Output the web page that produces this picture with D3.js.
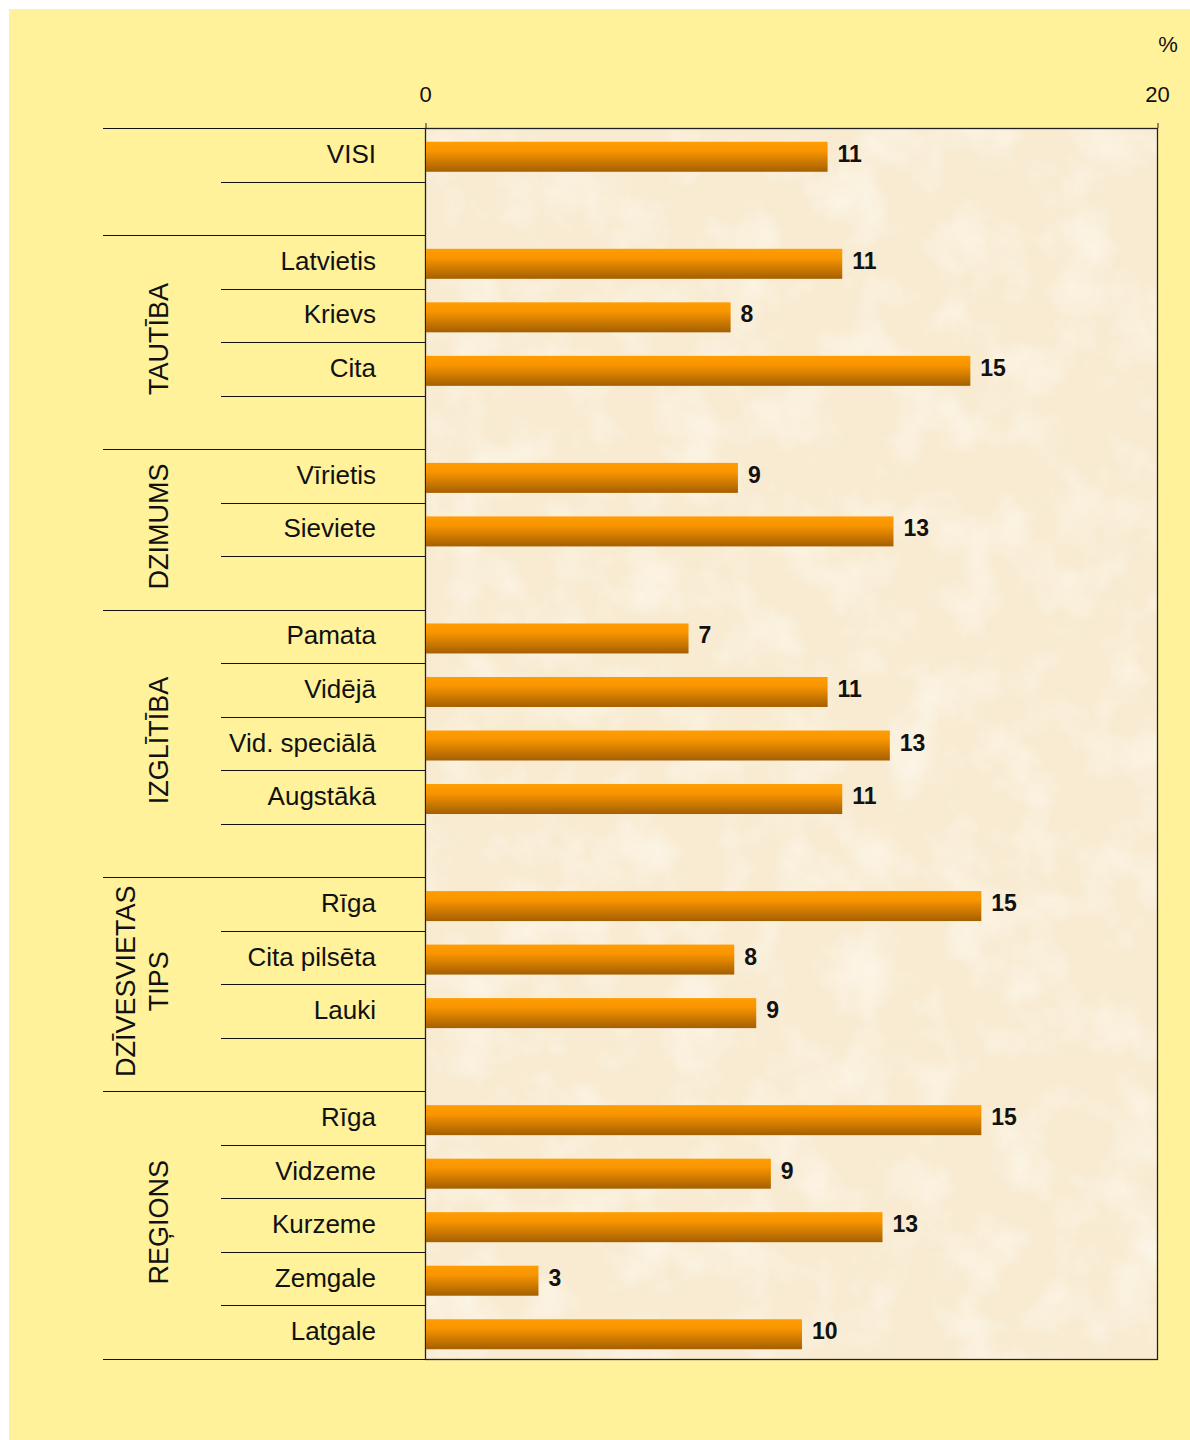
<!DOCTYPE html>
<meta charset="utf-8">
<style>
  body { margin: 0; background: white; }
  svg { display: block; font-family: "Liberation Sans", Arial, sans-serif; }
  .cat { font-size: 26px; fill: #111; }
  .grp { font-size: 27px; fill: #111; }
  .val { font-size: 23px; font-weight: bold; fill: #111; }
  .tick { font-size: 22px; fill: #111; }
</style>
<body>
<svg width="1190" height="1440"></svg>
<script src="https://cdn.jsdelivr.net/npm/d3@7/dist/d3.min.js"></script>
<script>

// rows, top to bottom ("" = spacer row)
var groups = ["", "", "TAUTĪBA", "TAUTĪBA", "TAUTĪBA", "TAUTĪBA",
  "DZIMUMS", "DZIMUMS", "DZIMUMS",
  "IZGLĪTĪBA", "IZGLĪTĪBA", "IZGLĪTĪBA", "IZGLĪTĪBA", "IZGLĪTĪBA",
  "DZĪVESVIETAS TIPS", "DZĪVESVIETAS TIPS", "DZĪVESVIETAS TIPS", "DZĪVESVIETAS TIPS",
  "REĢIONS", "REĢIONS", "REĢIONS", "REĢIONS", "REĢIONS"];
var groupStart = [1, 0, 1, 0, 0, 0, 1, 0, 0, 1, 0, 0, 0, 0, 1, 0, 0, 0, 1, 0, 0, 0, 0];
var categories = ["VISI", "", "Latvietis", "Krievs", "Cita", "",
  "Vīrietis", "Sieviete", "",
  "Pamata", "Vidējā", "Vid. speciālā", "Augstākā", "",
  "Rīga", "Cita pilsēta", "Lauki", "",
  "Rīga", "Vidzeme", "Kurzeme", "Zemgale", "Latgale"];
var values = [11.0, null, 11.4, 8.35, 14.9, null,
  8.55, 12.8, null,
  7.2, 11.0, 12.7, 11.4, null,
  15.2, 8.45, 9.05, null,
  15.2, 9.45, 12.5, 3.1, 10.3];
var ticks = [0, 20];

var svg = d3.select("svg");
var pLeft = 425, pRight = 1157, pTop = 128, pBottom = 1359;

var x = d3.scaleLinear().domain([0, 20]).range([pLeft, pRight]);
var y = d3.scaleBand().domain(d3.range(categories.length)).range([pTop, pBottom]);
var bh = 30;

var defs = svg.append("defs");
var grad = defs.append("linearGradient").attr("id", "bar").attr("x1", 0).attr("y1", 0).attr("x2", 0).attr("y2", 1);
grad.append("stop").attr("offset", "0%").attr("stop-color", "#ff9d00");
grad.append("stop").attr("offset", "30%").attr("stop-color", "#f99500");
grad.append("stop").attr("offset", "100%").attr("stop-color", "#a45f00");

var f = defs.append("filter").attr("id", "paper").attr("x", 0).attr("y", 0).attr("width", 1).attr("height", 1);
f.append("feTurbulence").attr("type", "fractalNoise").attr("baseFrequency", 0.018).attr("numOctaves", 4).attr("seed", 3);
f.append("feColorMatrix").attr("type", "matrix")
  .attr("values", "0 0 0 0 1  0 0 0 0 0.98  0 0 0 0 0.93  1.6 0 0 0 -0.7");

// background
svg.append("rect").attr("x", 9).attr("y", 9).attr("width", 1190 - 9).attr("height", 1440 - 9).attr("fill", "#fff29a");

// plot area
svg.append("rect").attr("x", pLeft).attr("y", pTop).attr("width", pRight - pLeft).attr("height", pBottom - pTop).attr("fill", "#f8ebd2");
svg.append("rect").attr("x", pLeft).attr("y", pTop).attr("width", pRight - pLeft).attr("height", pBottom - pTop)
  .attr("filter", "url(#paper)").attr("opacity", 0.75);

// left table lines
var rows = d3.range(categories.length);
svg.selectAll(".rl").data(rows).join("line")
  .attr("x1", function(i) { return (i + 1 < rows.length && groupStart[i + 1]) || i == rows.length - 1 ? 103 : 221; })
  .attr("x2", pLeft)
  .attr("y1", function(i) { return Math.round(y(i) + y.bandwidth()) + 0.5; })
  .attr("y2", function(i) { return Math.round(y(i) + y.bandwidth()) + 0.5; })
  .attr("stroke", "#111").attr("stroke-width", 1.2);
svg.append("line").attr("x1", 103).attr("x2", pLeft).attr("y1", pTop + 0.5).attr("y2", pTop + 0.5)
  .attr("stroke", "#111").attr("stroke-width", 1.2);

// plot frame
svg.append("rect").attr("x", pLeft + 0.5).attr("y", pTop + 0.5).attr("width", pRight - pLeft).attr("height", pBottom - pTop)
  .attr("fill", "none").attr("stroke", "#222").attr("stroke-width", 1.3);

// top axis
var axis = svg.append("g").attr("transform", "translate(0," + pTop + ")")
  .call(d3.axisTop(x).tickValues(ticks).tickSize(5).tickPadding(21).tickFormat(d3.format("d")));
axis.select(".domain").remove();
axis.selectAll("line").attr("stroke", "#222").attr("transform", "translate(0.5,0)");
axis.selectAll("text").attr("class", "tick").attr("font-family", null).attr("font-size", null);

svg.append("text").attr("class", "tick").attr("x", 1168).attr("y", 52).attr("text-anchor", "middle").text("%");

// bars
var data = rows.filter(function(i) { return values[i] != null; });
svg.selectAll(".bar").data(data).join("rect")
  .attr("x", pLeft + 1)
  .attr("y", function(i) { return y(i) + (y.bandwidth() - bh) / 2 + 2; })
  .attr("width", function(i) { return x(values[i]) - pLeft - 1; })
  .attr("height", bh)
  .attr("fill", "url(#bar)");

svg.selectAll(".val").data(data).join("text")
  .attr("class", "val")
  .attr("x", function(i) { return x(values[i]) + 10; })
  .attr("y", function(i) { return y(i) + y.bandwidth() / 2 + 7; })
  .text(function(i) { return Math.round(values[i]); });

// category labels
svg.selectAll(".cat").data(rows.filter(function(i) { return categories[i]; })).join("text")
  .attr("class", "cat")
  .attr("x", 376)
  .attr("text-anchor", "end")
  .attr("y", function(i) { return y(i) + y.bandwidth() / 2 + 8; })
  .text(function(i) { return categories[i]; });

// group labels (rotated)
var names = Array.from(new Set(groups.filter(function(g) { return g; })));
names.forEach(function(name) {
  var idx = rows.filter(function(i) { return groups[i] == name; });
  var cy = (y(idx[0]) + y(idx[idx.length - 1]) + y.bandwidth()) / 2;
  var parts = name == "DZĪVESVIETAS TIPS" ? ["DZĪVESVIETAS", "TIPS"] : [name];
  var t = svg.append("text").attr("class", "grp")
    .attr("transform", "translate(" + (168 - (parts.length - 1) * 33) + "," + (cy - 3) + ") rotate(-90)")
    .attr("text-anchor", "middle");
  parts.forEach(function(p, k) {
    t.append("tspan").attr("x", 0).attr("dy", k ? 33 : 0).text(p);
  });
});

</script>
</body>
